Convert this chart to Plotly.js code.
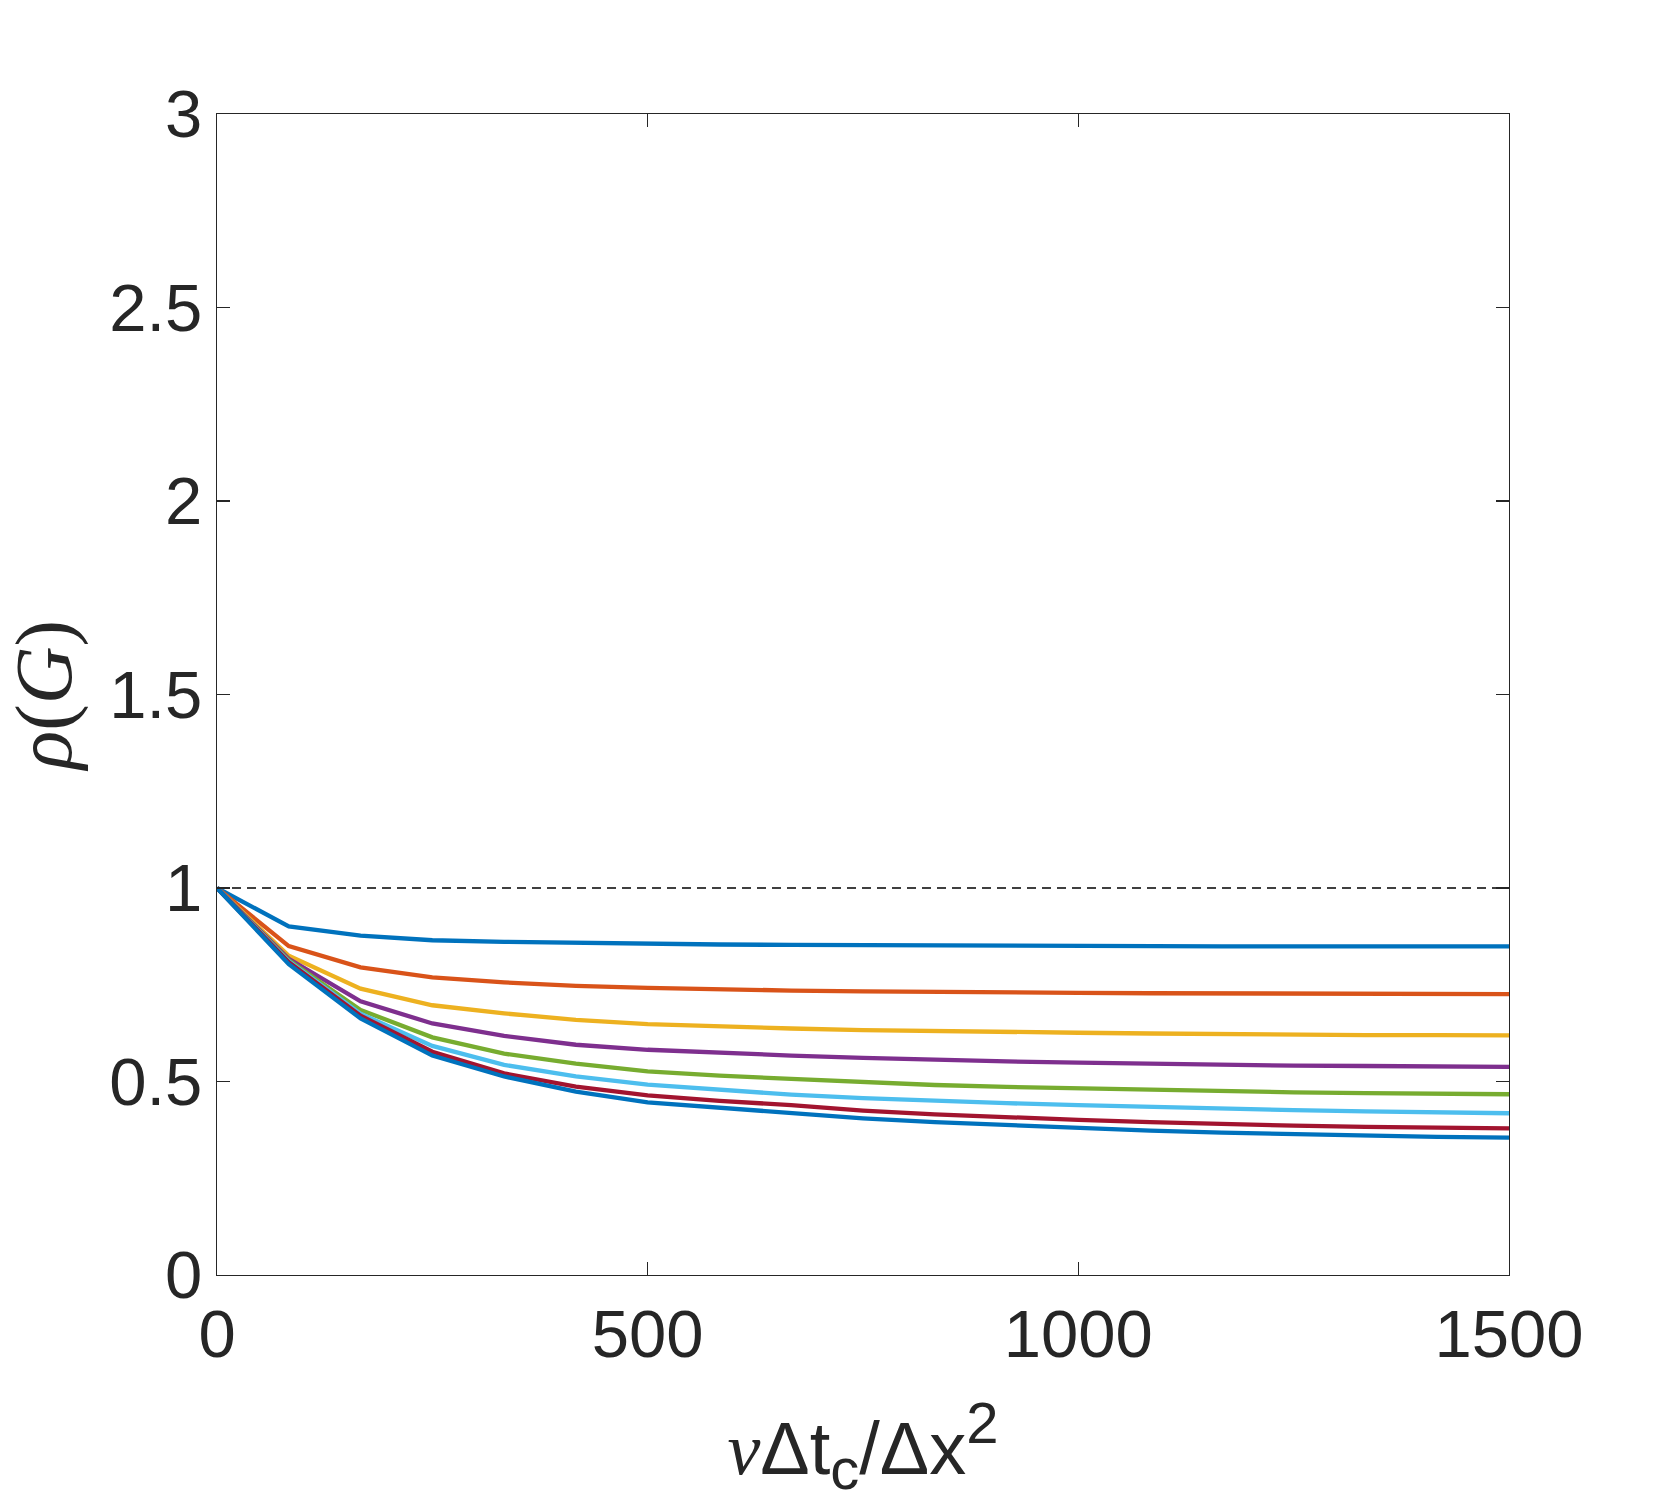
<!DOCTYPE html>
<html>
<head>
<meta charset="utf-8">
<script src="https://cdn.plot.ly/plotly-3.0.1.min.js"></script>
<style>
  html, body { margin: 0; padding: 0; background: #fff; }
  #chart { width: 1667px; height: 1512px; }
</style>
</head>
<body>
<div id="chart"></div>
<script>
// nu*dt_c/dx^2 sample points
const xValues = [0, 83.33, 166.67, 250, 333.33, 416.67, 500, 583.33, 666.67, 750,
                 833.33, 916.67, 1000, 1083.33, 1166.67, 1250, 1333.33, 1416.67, 1500];

// spectral radius rho(G), one curve per case
const rho1 = [1, 0.901, 0.877, 0.865, 0.861, 0.858, 0.855, 0.854, 0.853, 0.852, 0.851, 0.851, 0.850, 0.850, 0.849, 0.849, 0.849, 0.849, 0.849];
const rho2 = [1, 0.850, 0.795, 0.769, 0.756, 0.747, 0.742, 0.738, 0.735, 0.733, 0.731, 0.730, 0.729, 0.728, 0.728, 0.727, 0.727, 0.726, 0.726];
const rho3 = [1, 0.825, 0.740, 0.697, 0.676, 0.659, 0.648, 0.642, 0.637, 0.633, 0.630, 0.628, 0.626, 0.624, 0.622, 0.621, 0.620, 0.620, 0.619];
const rho4 = [1, 0.817, 0.707, 0.650, 0.618, 0.595, 0.582, 0.574, 0.567, 0.561, 0.556, 0.552, 0.549, 0.546, 0.543, 0.541, 0.540, 0.539, 0.538];
const rho5 = [1, 0.813, 0.685, 0.614, 0.572, 0.546, 0.526, 0.515, 0.507, 0.498, 0.491, 0.486, 0.482, 0.478, 0.474, 0.472, 0.470, 0.468, 0.467];
const rho6 = [1, 0.811, 0.675, 0.592, 0.543, 0.513, 0.492, 0.478, 0.466, 0.457, 0.450, 0.444, 0.439, 0.434, 0.429, 0.426, 0.423, 0.420, 0.418];
const rho7 = [1, 0.808, 0.670, 0.577, 0.521, 0.487, 0.464, 0.450, 0.439, 0.425, 0.415, 0.407, 0.401, 0.395, 0.390, 0.386, 0.383, 0.381, 0.379];
const rho8 = [1, 0.803, 0.663, 0.567, 0.513, 0.474, 0.446, 0.432, 0.420, 0.405, 0.395, 0.387, 0.380, 0.373, 0.368, 0.364, 0.360, 0.357, 0.355];

const curves = [rho1, rho2, rho3, rho4, rho5, rho6, rho7, rho8];

// matlab default colour order, wraps back to blue
const colors = ["#0072BD", "#D95319", "#EDB120", "#7E2F8E",
                "#77AC30", "#4DBEEE", "#A2142F", "#0072BD"];

// stability limit
const limitX = [0, 1500];
const limitY = [1, 1];

const xTicks = [0, 500, 1000, 1500];
const yTicks = [0, 0.5, 1, 1.5, 2, 2.5, 3];

const traces = [];

traces.push({
    x: limitX,
    y: limitY,
    mode: "lines",
    line: { color: "#000000", width: 1.3, dash: "9px,6px" },
    hoverinfo: "skip",
    showlegend: false
});

curves.forEach((c, i) => {
    traces.push({
        x: xValues,
        y: c,
        mode: "lines",
        line: { color: colors[i], width: 4.3 },
        showlegend: false
    });
});

const axisFont = { family: "Liberation Sans, Arial, sans-serif", size: 67, color: "#262626" };

const layout = {
    width: 1667,
    height: 1512,
    margin: { l: 217, r: 158, t: 114, b: 237 },
    paper_bgcolor: "#ffffff",
    plot_bgcolor: "#ffffff",
    showlegend: false,
    xaxis: {
        range: [0, 1500],
        tickvals: xTicks,
        ticktext: xTicks.map(String),
        ticks: "inside",
        ticklen: 13,
        tickwidth: 1.2,
        tickcolor: "#262626",
        showline: true,
        linecolor: "#262626",
        linewidth: 1.3,
        mirror: "ticks",
        showgrid: false,
        zeroline: false,
        tickfont: axisFont,
        title: {
            text: "<span style=\"font-family:'Liberation Serif'\"><i>ν</i></span>Δt<sub><span style=\"font-size:58px\">c</span></sub>/Δx<sup><span style=\"font-size:58px\">2</span></sup>",
            font: { family: "Liberation Sans, Arial, sans-serif", size: 74, color: "#262626" },
            standoff: 52
        }
    },
    yaxis: {
        range: [0, 3],
        tickvals: yTicks,
        ticktext: yTicks.map(String),
        ticks: "inside",
        ticklen: 13,
        tickwidth: 1.2,
        tickcolor: "#262626",
        showline: true,
        linecolor: "#262626",
        linewidth: 1.3,
        mirror: "ticks",
        showgrid: false,
        zeroline: false,
        tickfont: axisFont,
        title: {
            text: "<i>ρ</i>(<i>G</i>)",
            font: { family: "Liberation Serif, DejaVu Serif, serif", size: 80, color: "#262626" },
            standoff: 12
        }
    }
};

Plotly.newPlot("chart", traces, layout, { staticPlot: true, displayModeBar: false });
</script>
</body>
</html>
